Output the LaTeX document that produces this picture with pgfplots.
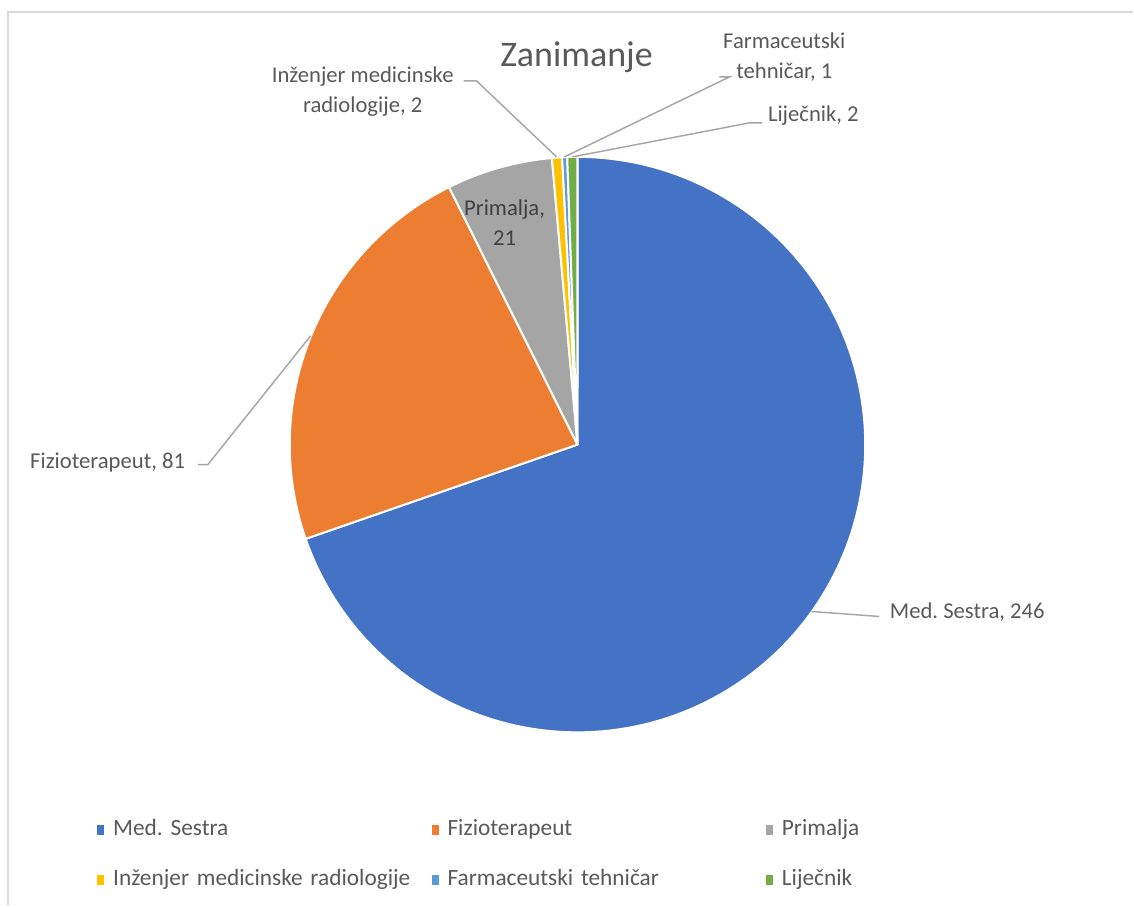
\documentclass[border=0pt]{standalone}
\usepackage{fontspec}
\setmainfont{Carlito}
\usepackage{pgfplots}
\pgfplotsset{compat=1.18}
\definecolor{cMed}{HTML}{4472C4}
\definecolor{cFiz}{HTML}{ED7D31}
\definecolor{cPri}{HTML}{A5A5A5}
\definecolor{cInz}{HTML}{FFC000}
\definecolor{cFar}{HTML}{5B9BD5}
\definecolor{cLij}{HTML}{70AD47}
\definecolor{tc}{HTML}{595959}
\definecolor{tdark}{HTML}{404040}
\definecolor{leader}{HTML}{A6A6A6}
\definecolor{frame}{HTML}{D9D9D9}
\frenchspacing
\begin{document}
\frenchspacing
\begin{tikzpicture}
% values
\def\vMed{246}\def\vFiz{81}\def\vPri{21}\def\vInz{2}\def\vFar{1}\def\vLij{2}
\pgfmathsetmacro{\tot}{\vMed+\vFiz+\vPri+\vInz+\vFar+\vLij}
\pgfmathsetmacro{\aA}{90}
\pgfmathsetmacro{\aB}{\aA-\vMed/\tot*360}
\pgfmathsetmacro{\aC}{\aB-\vFiz/\tot*360}
\pgfmathsetmacro{\aD}{\aC-\vPri/\tot*360}
\pgfmathsetmacro{\aE}{\aD-\vInz/\tot*360}
\pgfmathsetmacro{\aF}{\aE-\vFar/\tot*360}
\pgfmathsetmacro{\aG}{\aF-\vLij/\tot*360}
\begin{axis}[
  scale only axis, width=850.5pt, height=679.5pt,
  xmin=0, xmax=1134, ymin=0, ymax=906, y dir=reverse,
  hide axis, clip=false,
  legend columns=3,
  legend style={at={(axis cs:97,820)}, anchor=north west, draw=none, fill=none,
    inner sep=0pt, column sep=0pt, row sep=22pt,
    font=\fontsize{17.5}{20}\selectfont\frenchspacing, text=tc,
    nodes={inner xsep=0pt, inner ysep=0pt, text width=239pt, align=left, text height=12pt, text depth=3.5pt, anchor=west}},
  legend image code/.code={\fill[#1, draw=none] (0pt,-3.8pt) rectangle (5.3pt,3.8pt); \path (11.25pt,0pt);},
]
\addplot[fill=cMed, draw=white, line width=1.5pt, line join=round, domain=\aB:\aA, samples=150]
  ({578+288*cos(x)},{445-288*sin(x)}) -- (axis cs:578,445) -- cycle;
\addlegendentry{Med.\ Sestra}
\addplot[fill=cFiz, draw=white, line width=1.5pt, line join=round, domain=\aC:\aB, samples=60]
  ({578+288*cos(x)},{445-288*sin(x)}) -- (axis cs:578,445) -- cycle;
\addlegendentry{Fizioterapeut}
\addplot[fill=cPri, draw=white, line width=1.5pt, line join=round, domain=\aD:\aC, samples=20]
  ({578+288*cos(x)},{445-288*sin(x)}) -- (axis cs:578,445) -- cycle;
\addlegendentry{Primalja}
\addplot[fill=cInz, draw=white, line width=1.5pt, line join=round, domain=\aE:\aD, samples=5]
  ({578+288*cos(x)},{445-288*sin(x)}) -- (axis cs:578,445) -- cycle;
\addlegendentry{Inženjer medicinske radiologije}
\addplot[fill=cFar, draw=white, line width=1.5pt, line join=round, domain=\aF:\aE, samples=4]
  ({578+288*cos(x)},{445-288*sin(x)}) -- (axis cs:578,445) -- cycle;
\addlegendentry{Farmaceutski tehničar}
\addplot[fill=cLij, draw=white, line width=1.5pt, line join=round, domain=\aG:\aF, samples=5]
  ({578+288*cos(x)},{445-288*sin(x)}) -- (axis cs:578,445) -- cycle;
\addlegendentry{Liječnik}

% fix the bounding box to the whole canvas
\path (axis cs:0,0) rectangle (axis cs:1134,906);
% frame
\draw[frame, line width=1.5pt] (axis cs:8,906) -- (axis cs:8,12) -- (axis cs:1134,12);
% title
\node[text=tc, font=\fontsize{27}{30}\selectfont] at (axis cs:577,57) {Zanimanje};
% leader lines
\begin{scope}[leader, line width=1.1pt]
\draw (axis cs:812,612) -- (axis cs:880,617);
\draw (axis cs:311,336) -- (axis cs:208,465) -- (axis cs:198,465);
\draw (axis cs:557,157) -- (axis cs:477,81) -- (axis cs:464,81);
\draw (axis cs:565,157) -- (axis cs:730,77) -- (axis cs:720,77);
\draw (axis cs:573,157) -- (axis cs:750,123) -- (axis cs:763,123);
\end{scope}
% data labels
\begin{scope}[text=tc, font=\fontsize{17}{22.5}\selectfont\frenchspacing]
\node[anchor=west] at (axis cs:886,613) {Med.\ Sestra, 246};
\node[anchor=east] at (axis cs:190,463) {Fizioterapeut, 81};
\node[align=center] at (axis cs:363,92) {Inženjer medicinske\\radiologije, 2};
\node[align=center] at (axis cs:785,57) {Farmaceutski\\tehničar, 1};
\node[anchor=west] at (axis cs:764,116) {Liječnik, 2};
\node[align=center, text=tdark] at (axis cs:505,223) {Primalja,\\21};
\end{scope}
\end{axis}
\end{tikzpicture}
\end{document}
